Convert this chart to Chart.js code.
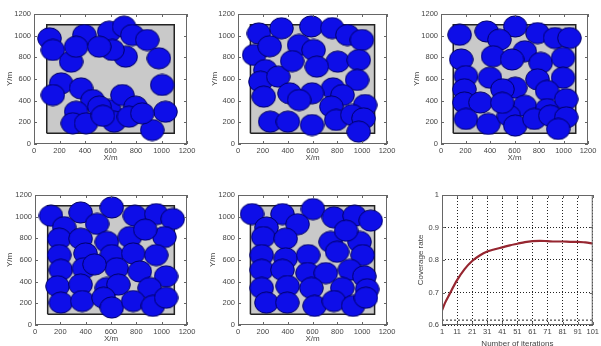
<!DOCTYPE html>
<html>
<head>
<meta charset="utf-8">
<script src="https://cdn.jsdelivr.net/npm/chart.js@4/dist/chart.umd.min.js"></script>
<style>
html, body { margin: 0; padding: 0; background: #fff; overflow: hidden; width: 601px; height: 346px; }
.panel { position: absolute; }
</style>
</head>
<body>
<div class="panel" style="left:0;top:0"><canvas id="c1" width="200" height="170"></canvas></div>
<div class="panel" style="left:200px;top:0"><canvas id="c2" width="200" height="170"></canvas></div>
<div class="panel" style="left:400px;top:0"><canvas id="c3" width="201" height="170"></canvas></div>
<div class="panel" style="left:0;top:170px"><canvas id="c4" width="200" height="176"></canvas></div>
<div class="panel" style="left:200px;top:170px"><canvas id="c5" width="200" height="176"></canvas></div>
<div class="panel" style="left:400px;top:170px"><canvas id="c6" width="201" height="180"></canvas></div>
<script>
// monitored region (m)
const regionX = [100, 1100, 1100, 100, 100];
const regionY = [100, 100, 1100, 1100, 100];
const axisTicks = [0, 200, 400, 600, 800, 1000, 1200];

// sensor node positions for each snapshot
const nodes1X = [122, 148, 291, 395, 330, 590, 706, 771, 888, 719, 615, 512, 979, 1005, 1031, 927, 213, 148, 369, 460, 330, 304, 408, 590, 693, 628, 797, 745, 849, 512, 540];
const nodes1Y = [975, 868, 760, 1006, 898, 1037, 1083, 1006, 960, 806, 868, 898, 791, 545, 298, 129, 560, 452, 514, 406, 298, 191, 191, 314, 452, 206, 345, 252, 283, 345, 260];

const nodes2X = [168, 350, 590, 759, 881, 998, 130, 492, 609, 803, 972, 635, 220, 181, 324, 959, 765, 596, 207, 415, 492, 842, 1024, 752, 259, 402, 596, 791, 920, 1011, 972, 255, 436];
const nodes2Y = [1021, 1068, 1085, 1070, 1006, 960, 822, 914, 868, 760, 775, 714, 683, 575, 622, 591, 514, 468, 437, 468, 406, 452, 360, 345, 206, 206, 175, 222, 268, 237, 114, 902, 765];

const nodes3X = [152, 373, 606, 788, 931, 1048, 477, 165, 425, 684, 814, 996, 580, 204, 399, 606, 788, 996, 191, 502, 866, 191, 321, 684, 866, 1022, 204, 386, 554, 606, 762, 892, 1022, 957, 500];
const nodes3Y = [1008, 1039, 1085, 1024, 978, 978, 963, 780, 810, 856, 749, 795, 780, 627, 612, 520, 597, 612, 505, 505, 490, 383, 383, 353, 322, 414, 231, 185, 261, 170, 231, 261, 246, 139, 380];

const nodes4X = [126, 360, 606, 788, 957, 1087, 230, 490, 191, 360, 567, 749, 1022, 191, 399, 606, 775, 957, 204, 386, 645, 827, 1035, 178, 360, 567, 658, 905, 204, 373, 541, 606, 775, 931, 1035, 870, 470];
const nodes4Y = [1009, 1039, 1085, 1009, 1024, 979, 903, 933, 797, 797, 767, 812, 812, 645, 661, 645, 661, 645, 509, 524, 524, 494, 449, 358, 373, 342, 373, 342, 206, 221, 252, 161, 221, 176, 252, 880, 560];

const nodes5X = [113, 358, 604, 772, 939, 1069, 230, 480, 203, 384, 746, 979, 191, 384, 565, 798, 1004, 191, 358, 560, 707, 901, 1017, 191, 400, 591, 840, 1040, 229, 397, 617, 772, 927, 1030, 870];
const nodes5Y = [1024, 1024, 1070, 994, 1009, 964, 900, 930, 812, 797, 767, 767, 645, 615, 645, 676, 645, 509, 509, 480, 479, 509, 449, 342, 360, 342, 342, 330, 206, 206, 176, 221, 176, 252, 870];

// coverage rate vs iterations
const iterations = [1, 3, 6, 11, 16, 21, 26, 31, 36, 41, 46, 51, 56, 61, 66, 71, 76, 81, 86, 91, 96, 101];
const coverage = [0.645, 0.668, 0.695, 0.738, 0.772, 0.797, 0.814, 0.826, 0.833, 0.839, 0.845, 0.850, 0.855, 0.858, 0.859, 0.858, 0.857, 0.857, 0.856, 0.856, 0.854, 0.851];
const iterTicks = [1, 11, 21, 31, 41, 51, 61, 71, 81, 91, 101];
const rateTicks = [0.6, 0.7, 0.8, 0.9, 1];
const refLevel = 0.615;

Chart.defaults.font.family = 'Arial, "Liberation Sans", sans-serif';
Chart.defaults.color = '#444';

// sensing disc drawn as an ellipse because the axes are not equal-aspect
const disc = document.createElement('canvas');
disc.width = 25; disc.height = 23;
(function () {
    const g = disc.getContext('2d');
    g.beginPath();
    g.ellipse(12.5, 11.5, 11.8, 10.6, 0, 0, Math.PI * 2);
    g.fillStyle = 'rgb(14,14,232)';
    g.fill();
    g.lineWidth = 1;
    g.strokeStyle = 'rgb(0,0,100)';
    g.stroke();
})();

// MATLAB-like axes box with inward ticks
const boxPlugin = {
    id: 'box',
    afterDraw(chart) {
        const { ctx, chartArea: a, scales } = chart;
        ctx.save();
        ctx.strokeStyle = '#666';
        ctx.lineWidth = 1;
        ctx.strokeRect(a.left + 0.5, a.top + 0.5, a.right - a.left - 1, a.bottom - a.top - 1);
        ctx.beginPath();
        scales.x.ticks.forEach(t => {
            const px = Math.round(scales.x.getPixelForValue(t.value)) + 0.5;
            ctx.moveTo(px, a.bottom); ctx.lineTo(px, a.bottom - 3);
            ctx.moveTo(px, a.top); ctx.lineTo(px, a.top + 3);
        });
        scales.y.ticks.forEach(t => {
            const py = Math.round(scales.y.getPixelForValue(t.value)) + 0.5;
            ctx.moveTo(a.left, py); ctx.lineTo(a.left + 3, py);
            ctx.moveTo(a.right, py); ctx.lineTo(a.right - 3, py);
        });
        ctx.stroke();
        ctx.restore();
    }
};

function toPoints(xs, ys) {
    return xs.map((x, i) => ({ x: x, y: ys[i] }));
}

const noGrid = { display: false, drawTicks: false };

function axisX(tickValues, height, titleText, titlePad, min, max, grid) {
    return {
        type: 'linear', min: min, max: max,
        afterBuildTicks: s => { s.ticks = tickValues.map(v => ({ value: v })); },
        afterFit: s => { s.height = height; },
        grid: grid || noGrid,
        border: { display: false, dash: grid ? [1, 2] : [] },
        ticks: { font: { size: 7.5 }, padding: 2, maxRotation: 0, autoSkip: false, callback: v => String(v) },
        title: { display: true, text: titleText, font: { size: 8 }, color: '#444', padding: { top: 0, bottom: titlePad } }
    };
}

function axisY(tickValues, width, titleText, titlePad, min, max, grid, fmt) {
    return {
        type: 'linear', min: min, max: max,
        afterBuildTicks: s => { s.ticks = tickValues.map(v => ({ value: v })); },
        afterFit: s => { s.width = width; },
        grid: grid || noGrid,
        border: { display: false, dash: grid ? [1, 2] : [] },
        ticks: { font: { size: 7.5 }, padding: 3, autoSkip: false, callback: fmt || (v => String(v)) },
        title: { display: true, text: titleText, font: { size: 8 }, color: '#444', padding: { top: titlePad, bottom: 0 } }
    };
}

function layoutChart(id, xs, ys, geo) {
    new Chart(document.getElementById(id), {
        type: 'scatter',
        data: {
            datasets: [{
                label: 'nodes',
                data: toPoints(xs, ys),
                pointStyle: disc,
                pointRadius: 12,
                order: 1
            }, {
                type: 'line',
                label: 'region',
                data: toPoints(regionX, regionY),
                borderColor: '#222',
                borderWidth: 1.5,
                backgroundColor: '#c9c9c9',
                fill: 'shape',
                pointRadius: 0,
                tension: 0,
                order: 2
            }]
        },
        options: {
            responsive: false,
            animation: false,
            events: [],
            layout: { padding: { left: 0, top: geo.top, right: geo.right, bottom: 0 } },
            plugins: { legend: { display: false }, tooltip: { enabled: false } },
            scales: {
                x: axisX(axisTicks, geo.xh, 'X/m', geo.xPad, 0, 1200),
                y: axisY(axisTicks, geo.yw, 'Y/m', geo.yPad, 0, 1200)
            }
        },
        plugins: [boxPlugin]
    });
}

layoutChart('c1', nodes1X, nodes1Y, { top: 14, right: 12, xh: 26, yw: 34, xPad: 7, yPad: 5 });
layoutChart('c2', nodes2X, nodes2Y, { top: 14, right: 7, xh: 26, yw: 38, xPad: 7, yPad: 10 });
layoutChart('c3', nodes3X, nodes3Y, { top: 14, right: 5, xh: 26, yw: 41, xPad: 7, yPad: 12 });
layoutChart('c4', nodes4X, nodes4Y, { top: 25, right: 11, xh: 21, yw: 35, xPad: 2, yPad: 5 });
layoutChart('c5', nodes5X, nodes5Y, { top: 25, right: 7, xh: 21, yw: 38, xPad: 2, yPad: 8 });

const dotted = { display: true, color: '#222', lineWidth: 1, drawTicks: false, drawOnChartArea: true };

new Chart(document.getElementById('c6'), {
    type: 'line',
    data: {
        datasets: [{
            label: 'Coverage rate',
            data: toPoints(iterations, coverage),
            borderColor: '#962630',
            borderWidth: 2.2,
            pointRadius: 0,
            cubicInterpolationMode: 'monotone',
            fill: false
        }, {
            label: 'ref',
            data: [{ x: 1, y: refLevel }, { x: 101, y: refLevel }],
            borderColor: '#222',
            borderWidth: 1,
            borderDash: [2, 2],
            pointRadius: 0,
            fill: false
        }]
    },
    options: {
        responsive: false,
        animation: false,
        events: [],
        layout: { padding: { left: 0, top: 25, right: 4, bottom: 0 } },
        plugins: { legend: { display: false }, tooltip: { enabled: false } },
        scales: {
            x: axisX(iterTicks, 25, 'Number of iterations', 1, 1, 101, dotted),
            y: axisY(rateTicks, 42, 'Coverage rate', 16, 0.6, 1, dotted, v => String(Math.round(v * 10) / 10))
        }
    },
    plugins: [boxPlugin]
});
</script>
</body>
</html>
